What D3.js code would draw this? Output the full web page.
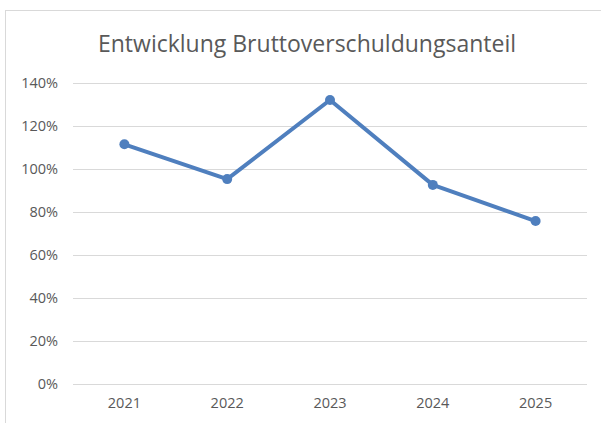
<!DOCTYPE html>
<html>
<head>
<meta charset="utf-8">
<script src="https://cdn.jsdelivr.net/npm/d3@7"></script>
<style>
    body { margin: 0; background: #fff; }
    svg { display: block; }
</style>
</head>
<body>
<div id="chart"></div>
<script>
var years = ["2021", "2022", "2023", "2024", "2025"];
var anteil = [1.115, 0.953, 1.321, 0.926, 0.758];
var yTicks = [0, 0.2, 0.4, 0.6, 0.8, 1.0, 1.2, 1.4];
var chartTitle = "Entwicklung Bruttoverschuldungsanteil";

var W = 601, H = 423;
var margin = {top: 83, right: 14, bottom: 39, left: 73},
    width = W - margin.left - margin.right,
    height = H - margin.top - margin.bottom;
var fontFam = "'Open Sans', 'Noto Sans', sans-serif";

var root = d3.select("#chart").append("svg")
    .attr("width", W)
    .attr("height", H);

// chart area border
root.append("rect")
    .attr("x", 5.5)
    .attr("y", 10.5)
    .attr("width", W + 10)
    .attr("height", H + 10)
    .attr("fill", "#fff")
    .attr("stroke", "#d9d9d9")
    .attr("stroke-width", 1);

root.append("text")
    .attr("x", 307)
    .attr("y", 52)
    .attr("text-anchor", "middle")
    .style("font-family", fontFam)
    .style("font-size", "23px")
    .style("fill", "#595959")
    .text(chartTitle);

var svg = root.append("g")
    .attr("transform", "translate(" + margin.left + "," + margin.top + ")");

var x = d3.scaleBand().domain(years).range([0, width]);
var y = d3.scaleLinear().domain([0, 1.4]).range([height, 0]);

// gridlines
svg.append("g")
    .selectAll("line")
    .data(yTicks)
    .enter()
    .append("line")
    .attr("x1", 0)
    .attr("x2", width)
    .attr("y1", function (d) { return Math.round(y(d)) + 0.5; })
    .attr("y2", function (d) { return Math.round(y(d)) + 0.5; })
    .attr("stroke", "#d9d9d9")
    .attr("stroke-width", 1);

// y axis labels
var yAxis = svg.append("g")
    .call(d3.axisLeft(y).tickValues(yTicks).tickSize(0).tickPadding(15)
        .tickFormat(d3.format(".0%")));
yAxis.select(".domain").remove();
yAxis.selectAll("text")
    .style("font-family", fontFam)
    .style("font-size", "14.5px")
    .style("fill", "#595959");

// x axis labels
var xAxis = svg.append("g")
    .attr("transform", "translate(0," + height + ")")
    .call(d3.axisBottom(x).tickSize(0).tickPadding(14));
xAxis.select(".domain").remove();
xAxis.selectAll("text")
    .style("font-family", fontFam)
    .style("font-size", "14.5px")
    .style("fill", "#595959");

var data = years.map(function (d, i) { return {year: d, value: anteil[i]}; });

var line = d3.line()
    .x(function (d) { return x(d.year) + x.bandwidth() / 2; })
    .y(function (d) { return y(d.value); });

svg.append("path")
    .attr("d", line(data))
    .attr("fill", "none")
    .attr("stroke", "#4f7fbe")
    .attr("stroke-width", 4)
    .attr("stroke-linejoin", "round")
    .attr("stroke-linecap", "round");

svg.selectAll("circle")
    .data(data)
    .enter()
    .append("circle")
    .attr("cx", function (d) { return x(d.year) + x.bandwidth() / 2; })
    .attr("cy", function (d) { return y(d.value); })
    .attr("r", 5)
    .style("fill", "#4f7fbe");
</script>
</body>
</html>
